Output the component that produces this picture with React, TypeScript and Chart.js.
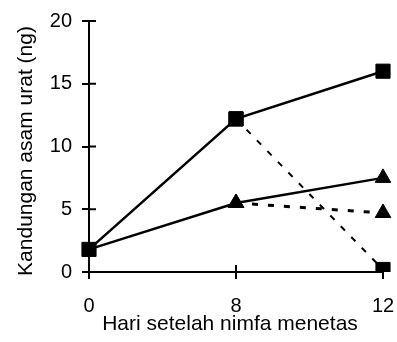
import React, { useEffect, useRef } from "react";
import { Chart, registerables } from "chart.js";

Chart.register(...registerables);

const days = ["0", "8", "12"];
const squareSolid = [1.8, 12.2, 16];
const squareDashed = [null, 12.2, 0.2];
const triangleSolid = [1.8, 5.5, 7.5];
const triangleDashed = [null, 5.5, 4.7];
const yTicks = [0, 5, 10, 15, 20];
const xTitle = "Hari setelah nimfa menetas";
const yTitle = "Kandungan asam urat (ng)";

const FONT = "'Liberation Sans', Arial, sans-serif";

const innerTicks = {
  id: "innerTicks",
  afterDraw(chart: any) {
    const { ctx, chartArea, scales } = chart;
    ctx.save();
    ctx.strokeStyle = "#000";
    ctx.lineWidth = 2;
    const ys = scales.y;
    ys.ticks.forEach((_t: any, i: number) => {
      const py = ys.getPixelForTick(i);
      ctx.beginPath();
      ctx.moveTo(chartArea.left, py);
      ctx.lineTo(chartArea.left + 7, py);
      ctx.stroke();
    });
    const xs = scales.x;
    xs.ticks.forEach((_t: any, i: number) => {
      const px = xs.getPixelForTick(i);
      ctx.beginPath();
      ctx.moveTo(px, chartArea.bottom);
      ctx.lineTo(px, chartArea.bottom - 7);
      ctx.stroke();
    });
    // axis titles
    ctx.fillStyle = "#000";
    ctx.font = `21px ${FONT}`;
    ctx.textAlign = "center";
    ctx.textBaseline = "middle";
    ctx.fillText(xTitle, 230, 324);
    ctx.translate(26, 151);
    ctx.rotate(-Math.PI / 2);
    ctx.fillText(yTitle, 0, 0);
    ctx.restore();
  },
};

export default function App() {
  const ref = useRef<HTMLCanvasElement>(null);
  useEffect(() => {
    if (!ref.current) return;
    const chart = new Chart(ref.current, {
      type: "line",
      data: {
        labels: days,
        datasets: [
          {
            data: squareSolid,
            borderColor: "#000",
            backgroundColor: "#000",
            borderWidth: 2.5,
            pointStyle: "rect",
            pointRadius: 10,
            pointBorderWidth: 1,
            tension: 0,
          },
          {
            data: squareDashed as any,
            borderColor: "#000",
            backgroundColor: "#000",
            borderWidth: 2,
            borderDash: [6, 9],
            pointStyle: "rect",
            pointRadius: [0, 10, 10],
            pointBorderWidth: 1,
            tension: 0,
          },
          {
            data: triangleSolid,
            borderColor: "#000",
            backgroundColor: "#000",
            borderWidth: 2.5,
            pointStyle: "triangle",
            pointRadius: [0, 9, 9],
            pointBorderWidth: 1,
            tension: 0,
          },
          {
            data: triangleDashed as any,
            borderColor: "#000",
            backgroundColor: "#000",
            borderWidth: 3,
            borderDash: [6, 10],
            pointStyle: "triangle",
            pointRadius: [0, 9, 9],
            pointBorderWidth: 1,
            tension: 0,
          },
        ],
      },
      options: {
        animation: false,
        responsive: false,
        maintainAspectRatio: false,
        layout: { padding: { left: 0, right: 14, top: 21, bottom: 0 } },
        plugins: { legend: { display: false }, tooltip: { enabled: false } },
        scales: {
          x: {
            type: "category",
            offset: false,
            grid: { drawOnChartArea: false, drawTicks: true, tickLength: 7, color: "#000", lineWidth: 2 },
            border: { display: true, color: "#000", width: 2 },
            ticks: { color: "#000", padding: 15, font: { family: FONT, size: 20 }, maxRotation: 0 },
            afterFit(scale: any) {
              scale.height = 70;
              scale.paddingLeft = 0;
              scale.paddingRight = 0;
            },
          },
          y: {
            min: 0,
            max: 20,
            afterBuildTicks(scale: any) {
              scale.ticks = yTicks.map((v) => ({ value: v }));
            },
            grid: { drawOnChartArea: false, drawTicks: true, tickLength: 7, color: "#000", lineWidth: 2 },
            border: { display: true, color: "#000", width: 2 },
            ticks: { color: "#000", padding: 10, font: { family: FONT, size: 20 } },
            afterFit(scale: any) {
              scale.width = 89;
              scale.paddingTop = 0;
              scale.paddingBottom = 0;
            },
          },
        },
      },
      plugins: [innerTicks],
    });
    return () => chart.destroy();
  }, []);
  return (
    <div style={{ position: "fixed", left: 0, top: 0, width: 397, height: 342, background: "#fff" }}>
      <canvas ref={ref} width={397} height={342} style={{ width: 397, height: 342 }} />
    </div>
  );
}
